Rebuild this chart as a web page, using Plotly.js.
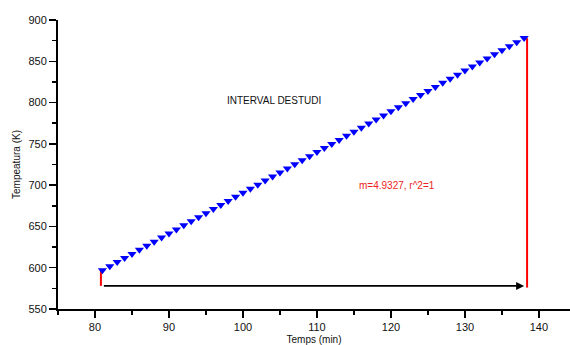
<!DOCTYPE html>
<html><head><meta charset="utf-8">
<script src="https://cdn.plot.ly/plotly-3.0.1.min.js"></script>
<style>html,body{margin:0;padding:0;background:#fff}#g{width:570px;height:345px}</style>
</head><body><div id="g"></div>
<script>
const timeMin = [81,82,83,84,85,86,87,88,89,90,91,92,93,94,95,96,97,98,99,100,101,102,103,104,105,106,107,108,109,110,111,112,113,114,115,116,117,118,119,120,121,122,123,124,125,126,127,128,129,130,131,132,133,134,135,136,137,138];
const tempK = [597.0,601.9,606.9,611.8,616.7,621.7,626.6,631.5,636.5,641.4,646.3,651.3,656.2,661.1,666.1,671.0,675.9,680.9,685.8,690.7,695.7,700.6,705.5,710.5,715.4,720.3,725.3,730.2,735.1,740.0,745.0,749.9,754.8,759.8,764.7,769.6,774.6,779.5,784.4,789.4,794.3,799.2,804.2,809.1,814.0,819.0,823.9,828.8,833.8,838.7,843.6,848.6,853.5,858.4,863.4,868.3,873.2,878.2];
const leftMarkX = [80.8, 80.8];
const leftMarkY = [597, 578];
const rightMarkX = [138.4, 138.4];
const rightMarkY = [878, 576];
const arrowStart = [81, 578];
const arrowEnd = [138, 578];
const intervalLabel = "INTERVAL DESTUDI";
const fitLabel = "m=4.9327, r^2=1";
const fitLabelPos = [120.8, 700];
const intervalLabelPos = [104.2, 803];

const font = "Liberation Sans, Arial, sans-serif";
const traces = [
  {x: leftMarkX, y: leftMarkY, mode: 'lines', line: {color: '#ff0000', width: 2}, hoverinfo: 'skip'},
  {x: rightMarkX, y: rightMarkY, mode: 'lines', line: {color: '#ff0000', width: 2}, hoverinfo: 'skip'},
  {x: timeMin, y: tempK, mode: 'markers', marker: {symbol: 'triangle-down', color: '#0000ff', size: 8}}
];
const layout = {
  width: 570, height: 345,
  margin: {l: 58, r: 0, t: 20, b: 36},
  showlegend: false,
  paper_bgcolor: '#fff', plot_bgcolor: '#fff',
  font: {family: font, size: 11, color: '#111'},
  xaxis: {range: [75, 144.2], showgrid: false, zeroline: false, showline: true, linecolor: '#000', linewidth: 2,
    ticks: 'outside', ticklen: 7, tickwidth: 1.5, tickcolor: '#000', dtick: 10, tick0: 80,
    minor: {dtick: 5, ticks: 'outside', ticklen: 4, tickwidth: 1.5, tickcolor: '#000'},
    tickfont: {size: 11, family: font, color: '#111'},
    title: {text: 'Temps (min)', font: {size: 10, family: font}, standoff: 6}},
  yaxis: {range: [550, 900], showgrid: false, zeroline: false, showline: true, linecolor: '#000', linewidth: 2,
    ticks: 'outside', ticklen: 7, tickwidth: 1.5, tickcolor: '#000', dtick: 50, tick0: 550,
    minor: {dtick: 25, ticks: 'outside', ticklen: 4, tickwidth: 1.5, tickcolor: '#000'},
    tickfont: {size: 11, family: font, color: '#111'},
    title: {text: 'Tempeatura (K)', font: {size: 10, family: font}, standoff: 6}},
  annotations: [
    {x: arrowEnd[0], y: arrowEnd[1], ax: arrowStart[0], ay: arrowStart[1], axref: 'x', ayref: 'y', xref: 'x', yref: 'y',
     showarrow: true, arrowhead: 2, arrowsize: 1, arrowwidth: 1.6, arrowcolor: '#000', text: ''},
    {x: intervalLabelPos[0], y: intervalLabelPos[1], xref: 'x', yref: 'y', text: intervalLabel, showarrow: false,
     font: {size: 10, family: font, color: '#111'}},
    {x: fitLabelPos[0], y: fitLabelPos[1], xref: 'x', yref: 'y', text: fitLabel, showarrow: false,
     font: {size: 10, family: font, color: '#ee2222'}}
  ]
};
Plotly.newPlot('g', traces, layout, {displayModeBar: false, staticPlot: true});
</script></body></html>
